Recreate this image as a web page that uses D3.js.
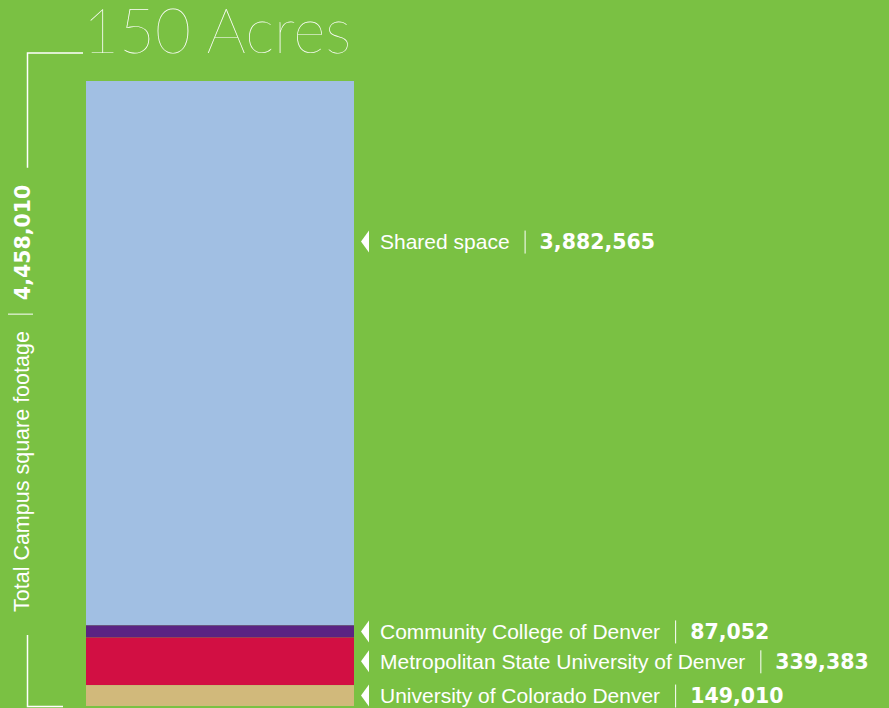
<!DOCTYPE html>
<html>
<head>
<meta charset="utf-8">
<script src="https://cdn.jsdelivr.net/npm/d3@7"></script>
<style>
  html, body { margin: 0; padding: 0; background: #7ac143; }
  svg { display: block; }
  .lbl { font-family: Arial, 'Liberation Sans', sans-serif; font-size: 21px; fill: #fff; }
  .val { font-family: 'DejaVu Sans', sans-serif; font-weight: bold; font-size: 20.5px; fill: #fff; }
</style>
</head>
<body>
<svg id="chart" width="889" height="708"></svg>
<script>
// segments listed top to bottom
const categories = ['Shared space', 'Community College of Denver', 'Metropolitan State University of Denver', 'University of Colorado Denver']
const values = [3882565, 87052, 339383, 149010]
const colors = ['#a1bfe3', '#5b2383', '#d20f43', '#d1b97b']
const labelPos = [0.295, 0.5, 0.5, 0.5]   // where along each segment the callout sits
const title = '150 Acres'
const totalLabel = 'Total Campus square footage'

const fmt = d3.format(',')
const total = d3.sum(values)

const svg = d3.select('#chart')
const margin = {top: 81, bottom: 2, left: 86}
const barW = 268

const y = d3.scaleLinear().domain([0, total]).range([708 - margin.bottom, margin.top])

// stack from the bottom up
const rows = categories.map((c, i) => ({name: c, value: values[i], color: colors[i], pos: labelPos[i]}))
let acc = 0
for (let i = rows.length - 1; i >= 0; i--) {
  rows[i].y0 = acc
  acc += rows[i].value
  rows[i].y1 = acc
}

svg.selectAll('.seg')
  .data(rows)
  .enter()
  .append('rect')
  .attr('class', 'seg')
  .attr('x', margin.left)
  .attr('width', barW)
  .attr('y', (d) => y(d.y1))
  .attr('height', (d) => y(d.y0) - y(d.y1))
  .attr('fill', (d) => d.color)

// callouts
const callout = svg.selectAll('.callout')
  .data(rows)
  .enter()
  .append('g')
  .attr('class', 'callout')
  .attr('transform', (d) => {
    const cy = y(d.y1) + (y(d.y0) - y(d.y1)) * d.pos
    return `translate(${margin.left + barW + 7}, ${cy})`
  })

callout.append('path')
  .attr('d', 'M0,0 L8,-11 L8,11 Z')
  .attr('fill', '#fff')

callout.each(function(d) {
  const g = d3.select(this)
  const t = g.append('text')
    .attr('class', 'lbl')
    .attr('x', 19)
    .attr('y', 7.5)
    .text(d.name)
  const end = 19 + t.node().getComputedTextLength()
  g.append('line')
    .attr('x1', end + 15.5).attr('x2', end + 15.5)
    .attr('y1', -11).attr('y2', 12)
    .attr('stroke', '#fff')
    .attr('stroke-width', 1)
  g.append('text')
    .attr('class', 'val')
    .attr('x', end + 30)
    .attr('y', 7.5)
    .text(fmt(d.value))
})

// title
svg.append('text')
  .attr('x', margin.left - 3)
  .attr('y', 53)
  .attr('font-family', 'Lato, Roboto, sans-serif')
  .attr('font-weight', 100)
  .attr('font-size', 62)
  .attr('fill', '#fff')
  .text(title)

// bracket with vertical total label
const bx = 27.5
const vg = svg.append('g').attr('transform', `translate(29, 612) rotate(-90)`)
const vt = vg.append('text')
  .attr('class', 'lbl')
  .attr('font-size', 21.5)
  .style('font-size', '21.5px')
  .attr('x', 0)
  .attr('y', 0)
  .text(totalLabel)
const vEnd = vt.node().getComputedTextLength()
vg.append('line')
  .attr('x1', vEnd + 17).attr('x2', vEnd + 17)
  .attr('y1', -21).attr('y2', 4)
  .attr('stroke', '#fff')
const vv = vg.append('text')
  .attr('class', 'val')
  .attr('x', vEnd + 31)
  .attr('y', 1)
  .text(fmt(total))
const vTop = 612 - (vEnd + 31 + vv.node().getComputedTextLength())

const bracket = svg.append('g')
  .attr('stroke', '#fff')
  .attr('stroke-width', 1.5)
  .attr('fill', 'none')
bracket.append('path')
  .attr('d', `M${margin.left - 3},53 H${bx} V${vTop - 17}`)
bracket.append('path')
  .attr('d', `M${bx},${612 + 23} V${y(0) + 0.5} H63`)
</script>
</body>
</html>
